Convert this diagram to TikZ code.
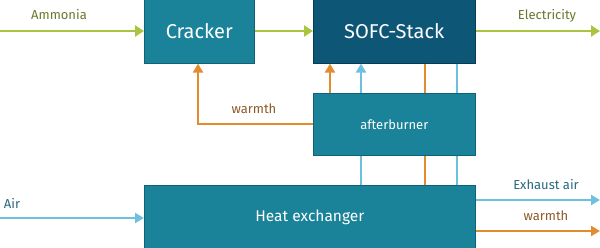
\documentclass[tikz,border=0pt]{standalone}
\usepackage{fontspec}
\setmainfont{Fira Sans}
\usetikzlibrary{arrows.meta}
\definecolor{teal1}{RGB}{26,130,153}
\definecolor{tealb}{RGB}{16,98,118}
\definecolor{sofc}{RGB}{14,86,118}
\definecolor{sofcb}{RGB}{8,60,86}
\definecolor{grn}{RGB}{168,196,64}
\definecolor{grnt}{RGB}{104,120,44}
\definecolor{org}{RGB}{226,140,48}
\definecolor{orgt}{RGB}{140,90,40}
\definecolor{blu}{RGB}{110,192,224}
\definecolor{blut}{RGB}{40,104,126}
\tikzset{
  boxA/.style={draw=tealb, line width=0.6pt, fill=teal1, text=white, inner sep=0pt},
  boxS/.style={draw=sofcb, line width=0.6pt, fill=sofc, text=white, inner sep=0pt},
  gline/.style={draw=grn, line width=2.8pt},
  oline/.style={draw=org, line width=2.6pt},
  bline/.style={draw=blu, line width=2.6pt},
  tipg/.style={-{Triangle[width=11pt,length=9pt]}},
  tipo/.style={-{Triangle[width=10pt,length=9pt]}},
  lbl/.style={font=\fontsize{13}{15}\selectfont, inner sep=0pt}
}
\begin{document}
\begin{tikzpicture}[x=1pt,y=-1pt]
\useasboundingbox (0,0) rectangle (600,248);
% boxes
\node[boxA, minimum width=110pt, minimum height=64pt, anchor=north west] (cr) at (144,-1) {\fontsize{20}{22}\selectfont Cracker};
\node[boxS, minimum width=162pt, minimum height=64pt, anchor=north west] (so) at (313,-1) {\fontsize{20}{22}\selectfont SOFC-Stack};
\node[boxA, minimum width=162pt, minimum height=62pt, anchor=north west] (ab) at (313,93) {\fontsize{13}{15}\selectfont afterburner};
\node[boxA, minimum width=331pt, minimum height=64pt, anchor=north west] (hx) at (144,185) {\fontsize{15.5}{17}\selectfont Heat exchanger};
% coordinates
\coordinate (amm) at (0,31);
\coordinate (ele) at (600,31);
\coordinate (air) at (0,218);
\coordinate (exh) at (600,200);
\coordinate (wst) at (600,231);
% green
\draw[gline,tipg] (amm) -- (cr.west |- amm);
\draw[gline,tipg] (cr.east |- amm) -- (so.west |- amm);
\draw[gline,tipg] (so.east |- ele) -- (ele);
% warmth loop
\draw[oline,tipo] (ab.west |- 0,124) -| (198,0 |- cr.south);
% between SOFC and afterburner
\draw[oline,tipo] (330,0 |- ab.north) -- (330,0 |- so.south);
\draw[bline,tipo] (361,0 |- ab.north) -- (361,0 |- so.south);
\draw[oline] (425,0 |- so.south) -- (425,0 |- ab.north);
\draw[bline] (457,0 |- so.south) -- (457,0 |- ab.north);
% between afterburner and heat exchanger
\draw[bline] (361,0 |- hx.north) -- (361,0 |- ab.south);
\draw[oline] (425,0 |- ab.south) -- (425,0 |- hx.north);
\draw[bline] (457,0 |- ab.south) -- (457,0 |- hx.north);
% air
\draw[bline,tipo] (air) -- (hx.west |- air);
\draw[bline,tipo] (hx.east |- exh) -- (exh);
\draw[oline,tipo] (hx.east |- wst) -- (wst);
% labels
\node[lbl, text=grnt] (lamm) at (59,15) {Ammonia};
\node[lbl, text=grnt] (lele) at (547,16) {Electricity};
\node[lbl, text=orgt] (lwar) at (254,109) {warmth};
\node[lbl, text=blut] (lair) at (12,203) {Air};
\node[lbl, text=blut] (lexh) at (546,185) {Exhaust air};
\node[lbl, text=orgt] (lwst) at (546,216) {warmth};
\end{tikzpicture}
\end{document}
